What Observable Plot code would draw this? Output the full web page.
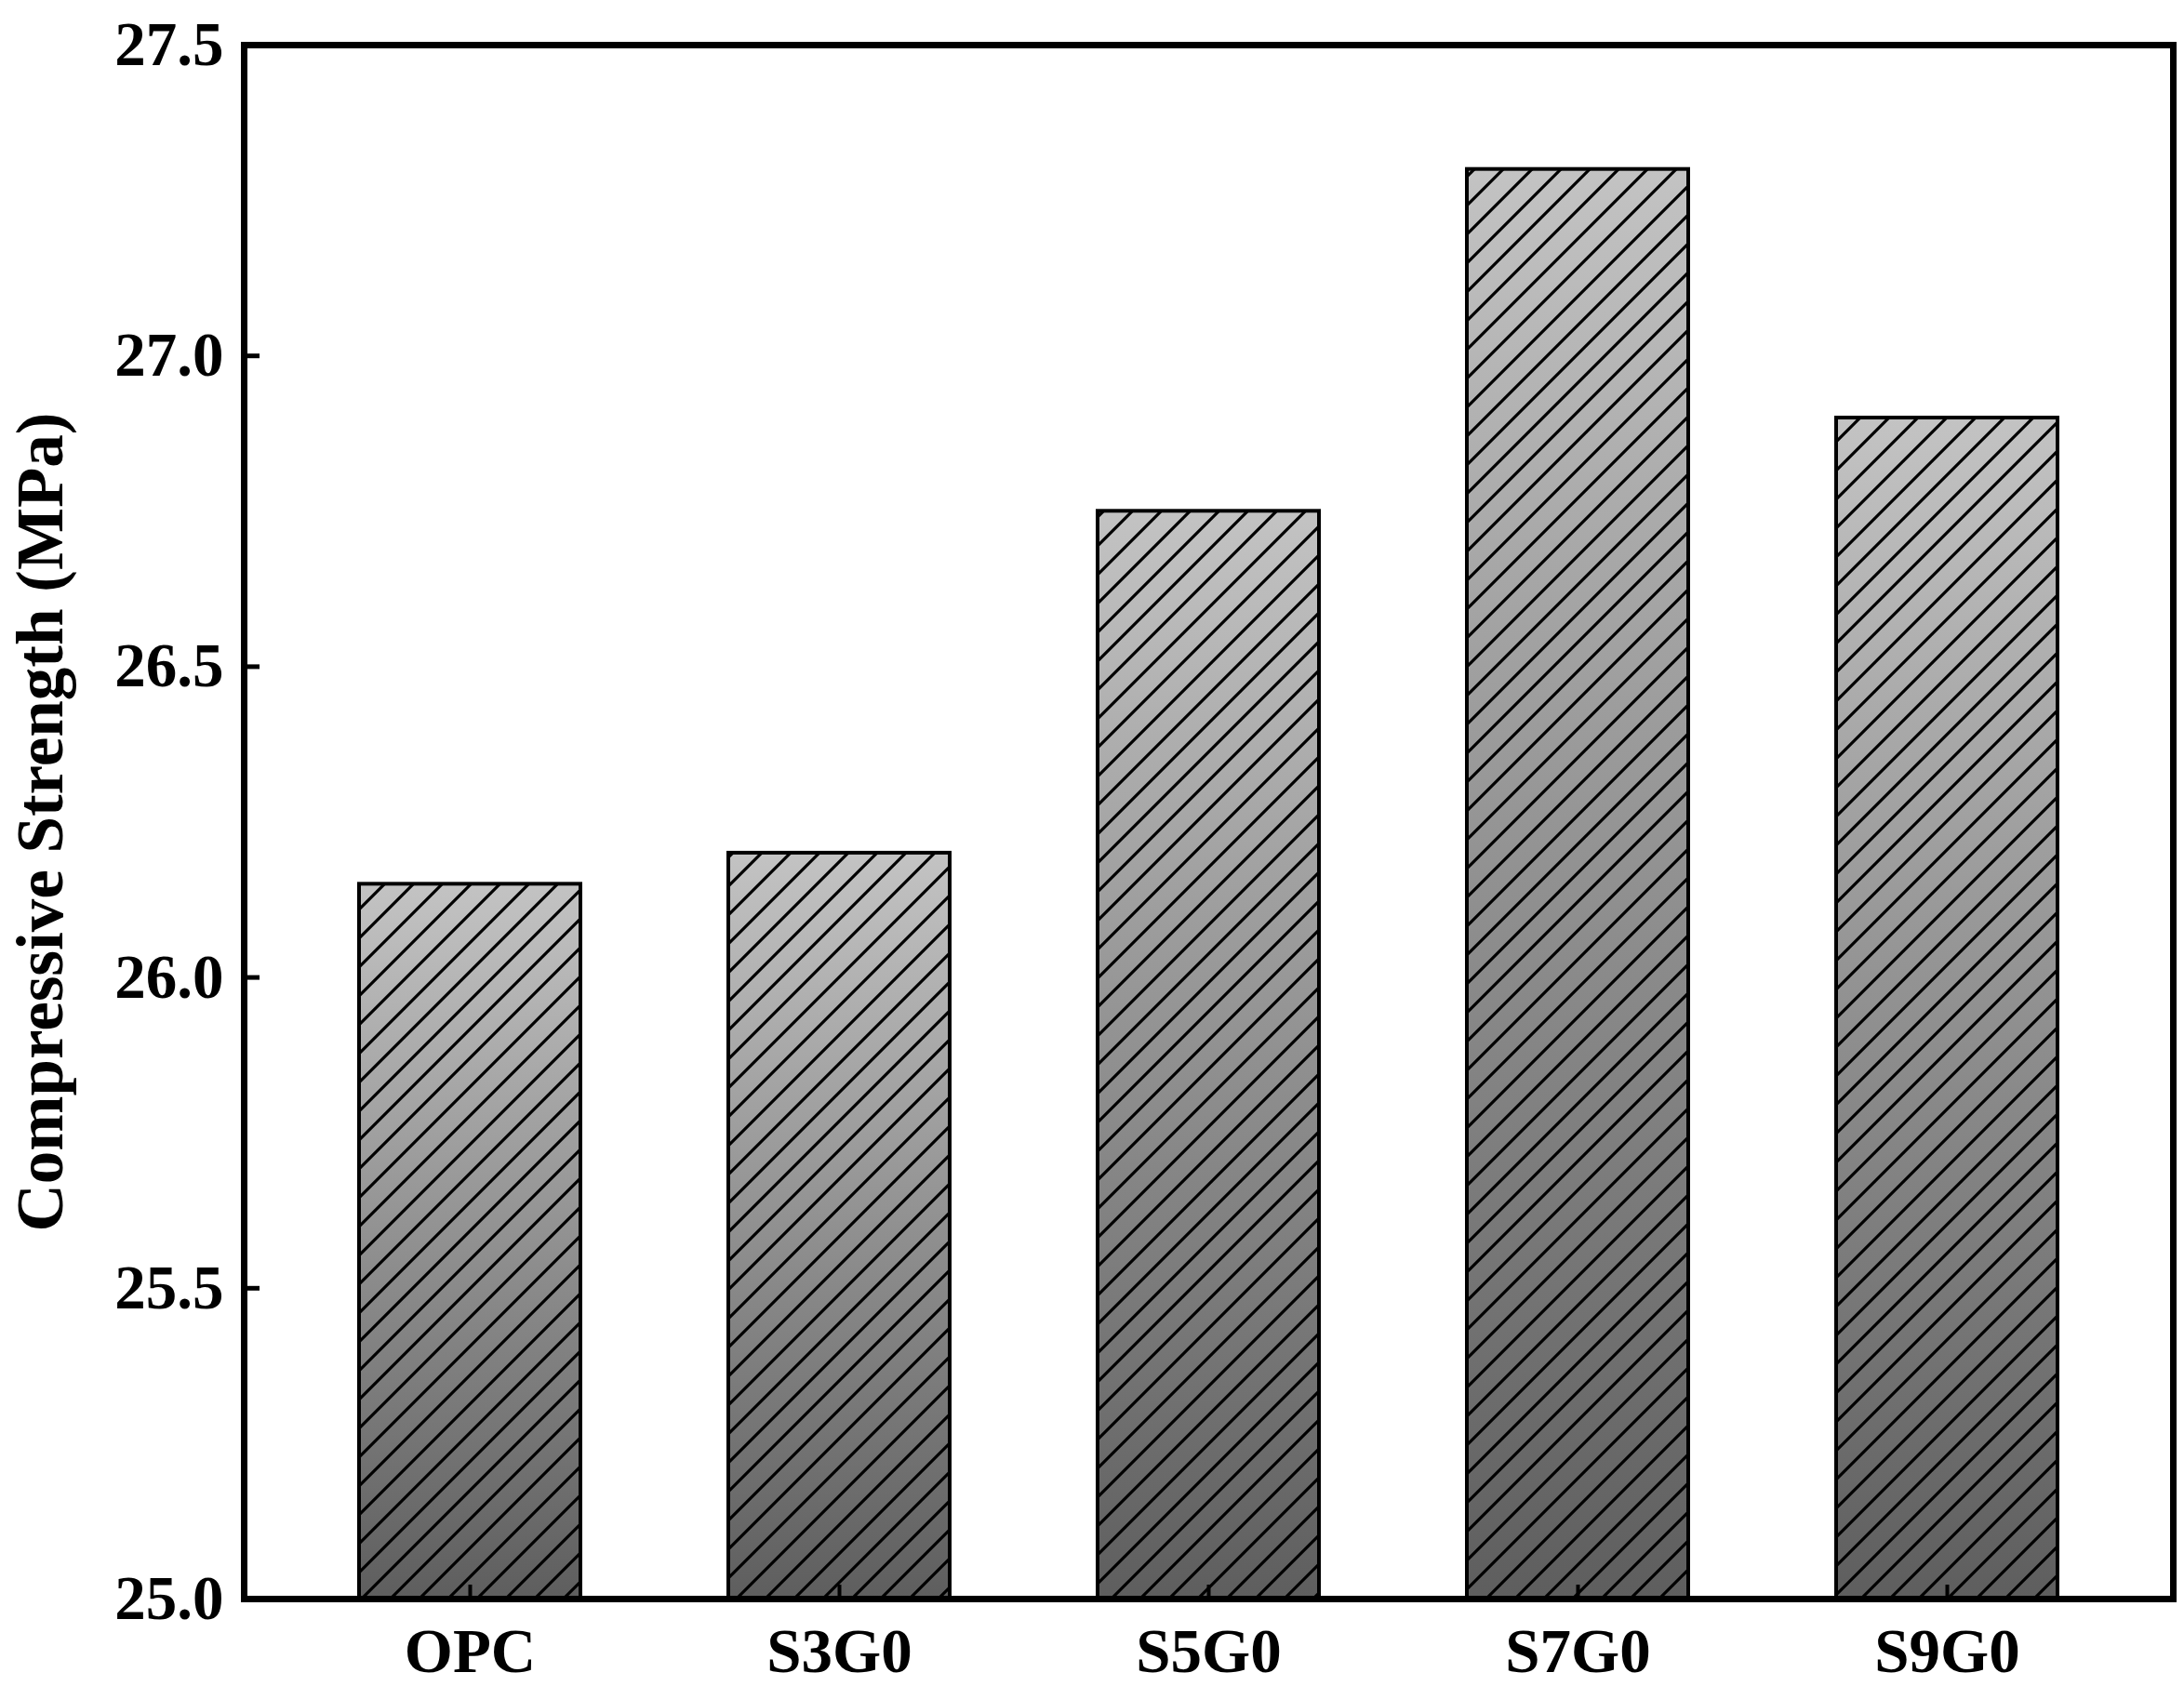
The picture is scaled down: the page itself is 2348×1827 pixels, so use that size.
<!DOCTYPE html>
<html><head><meta charset="utf-8">
<script src="https://cdn.jsdelivr.net/npm/d3@7"></script>
<script src="https://cdn.jsdelivr.net/npm/@observablehq/plot@0.6"></script>
<style>body{margin:0;background:#fff}</style>
</head><body><div id="chart"></div>
<script>
const categories = ["OPC", "S3G0", "S5G0", "S7G0", "S9G0"];
const strength = [26.15, 26.20, 26.75, 27.30, 26.90];
const yTicks = [25.0, 25.5, 26.0, 26.5, 27.0, 27.5];
const yDomain = [25, 27.5];
const yLabel = "Compressive Strength (MPa)";

const data = categories.map((c, i) => ({cat: c, value: strength[i]}));
const fmt = d3.format(".1f");

const chart = Plot.plot({
  width: 2348, height: 1827,
  marginLeft: 262, marginRight: 12, marginTop: 48, marginBottom: 108,
  style: {fontFamily: "'Liberation Serif','Times New Roman',serif", fontWeight: "bold", fontSize: "67px", background: "#fff", color: "#000"},
  x: {domain: categories, paddingInner: 0.4, paddingOuter: 0.31, label: null},
  y: {domain: yDomain, label: null},
  marks: [
    Plot.barY(data, {x: "cat", y1: () => yDomain[0], y2: "value", fill: "url(#barGrad)"}),
    Plot.barY(data, {x: "cat", y1: () => yDomain[0], y2: "value", fill: "url(#hatch)", stroke: "#000", strokeWidth: 4}),
    Plot.frame({stroke: "#000", strokeWidth: 7}),
    Plot.axisY({ticks: yTicks, tickFormat: fmt, tickSize: -17, tickPadding: 39, strokeWidth: 5,
                label: yLabel, labelAnchor: "center", labelArrow: "none", labelOffset: 246}),
    Plot.axisX({tickSize: -15, tickPadding: 46, strokeWidth: 4, label: null})
  ]
});

const svg = chart.tagName.toLowerCase() === "svg" ? chart : chart.querySelector("svg");
svg.insertAdjacentHTML("afterbegin", `
<defs>
  <linearGradient id="barGrad" x1="0" y1="0" x2="0" y2="1">
    <stop offset="0" stop-color="#c3c3c3"/>
    <stop offset="1" stop-color="#5e5e5e"/>
  </linearGradient>
  <pattern id="hatch" patternUnits="userSpaceOnUse" width="31" height="31">
    <path d="M0,31 L31,0 M-8,8 L8,-8 M23,39 L39,23" stroke="#000" stroke-width="3.2" stroke-linecap="square" fill="none"/>
  </pattern>
</defs>`);
const lab = svg.querySelector('[aria-label="y-axis label"]');
if (lab) lab.style.fontSize = "71px";
document.getElementById("chart").appendChild(chart);
</script>
</body></html>
